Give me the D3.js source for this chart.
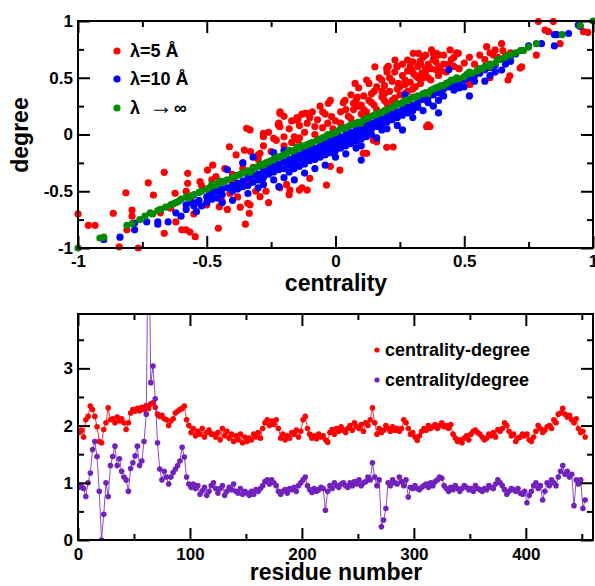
<!DOCTYPE html>
<html>
<head>
<meta charset="utf-8">
<script src="https://cdn.jsdelivr.net/npm/d3@7"></script>
<style>
  body { margin: 0; background: #fff; }
  text { font-family: "Liberation Sans", Arial, Helvetica, sans-serif; font-weight: bold; }
</style>
</head>
<body>
<svg id="chart" width="595" height="586"></svg>
<script>
// ---- top panel: degree vs centrality ----
var topXTicks = [-1, -0.5, 0, 0.5, 1];
var topXMinor = [-0.75, -0.25, 0.25, 0.75];
var topYTicks = [-1, -0.5, 0, 0.5, 1];
var topYMinor = [-0.75, -0.25, 0.25, 0.75];
var scatterNames = ["\u03bb=5 \u00c5", "\u03bb=10 \u00c5", "\u03bb|\u2192|\u221e"];   // "|" splits the pieces of the last label

// lambda = 5 A
var red5 = [
  [-1,-0.7],[-0.96,-0.8],[-0.934,-0.8],[-0.863,-0.694],[-0.84,-0.99],[-0.814,-0.513],[-0.81,-0.84],
  [-0.766,-1.0],[-0.79,-0.665],[-0.79,-0.72],[-0.727,-0.425],[-0.707,-0.533],[-0.68,-0.69],[-0.665,-0.333],
  [-0.64,-0.65],[-0.665,-0.87],[-0.623,-0.518],[-0.62,-0.77],[-0.597,-0.84],[-0.58,-0.84],[-0.565,-0.86],
  [-0.545,-0.9],[-0.574,-0.342],[-0.574,-0.43],[-0.56,-0.55],[-0.526,-0.416],[-0.497,-0.313],[-0.477,-0.27],
  [-0.464,-0.372],[-0.451,-0.636],[-0.455,-0.826],[-0.44,-0.59],[-0.41,-0.52],[-0.412,-0.108],[-0.4,-0.35],
  [-0.386,-0.18],[-0.36,-0.25],[-0.354,-0.137],[-0.345,0.055],[-0.37,-0.64],[-0.341,-0.606],[-0.335,-0.694],
  [-0.35,-0.79],[-0.32,-0.29],[-0.3,-0.18],[-0.3,-0.22],[-0.28,-0.02],[-0.26,-0.6],[-0.27,-0.5],[-0.24,-0.035],
  [-0.222,0.084],[-0.215,0.2],[-0.2,0.16],[-0.19,-0.44],[-0.18,-0.53],[-0.15,0.15],[-0.17,-0.07],[-0.2,-0.1],
  [-0.58,-0.5],[-0.55,-0.7],[-0.52,-0.45],[-0.5,-0.62],[-0.48,-0.4],[-0.45,-0.5],[-0.43,-0.3],[-0.42,-0.66],
  [-0.4,-0.42],[-0.38,-0.55],[-0.36,-0.3],[-0.34,-0.4],[-0.33,-0.15],[-0.31,-0.5],[-0.3,-0.35],
  [-0.332,0.04],[-0.293,-0.166],[-0.28,0.01],[-0.216,0.187],[-0.216,0.069],[-0.15,0.128],[-0.112,0.187],
  [-0.293,-0.548],[-0.332,-0.62],[-0.216,-0.47],[-0.177,-0.49],[-0.13,-0.47],[-0.1,-0.386],[-0.035,-0.445],
  [-0.14,-0.49],[-0.11,-0.49],[-0.02,-0.28],[0.017,-0.313],[-0.054,-0.166],[-0.1,-0.137],[-0.145,-0.05],
  [-0.145,0.142],[-0.118,0.187],[-0.08,0.07],[-0.028,0.275],[-0.015,0.157],[0.011,-0.107],
  [-0.28,-0.1],[-0.26,0.02],[-0.25,-0.15],[-0.23,-0.05],[-0.22,0.1],[-0.2,-0.02],[-0.18,0.05],[-0.17,0.12],
  [-0.16,-0.02],[-0.14,0.08],[-0.13,0.18],[-0.12,0.02],[-0.11,0.1],[-0.09,0.2],[-0.08,0.0],[-0.07,0.13],
  [-0.06,0.25],[-0.05,0.06],[-0.04,0.18],[-0.03,0.1],[-0.02,0.3],[-0.01,0.05],
  [-0.05,0.2],[-0.1,0.15],[-0.14,-0.03],
  [0.0,0.12],[0.02,0.2],[0.03,0.28],[0.037,0.3],[0.05,0.16],[0.06,0.35],[0.07,0.22],[0.07,0.275],[0.076,0.45],
  [0.08,0.3],[0.085,0.33],[0.09,0.41],[0.1,0.18],[0.1,0.26],[0.108,0.07],[0.108,-0.166],[0.121,0.48],
  [0.121,-0.166],[0.147,-0.05],[0.16,-0.063],[0.199,-0.113],[0.224,-0.11],
  [0.02,0.1],[0.04,0.22],[0.06,0.14],[0.09,0.25],[0.11,0.22],[0.13,0.3],[0.15,0.26],[0.16,0.42],
  [0.18,0.38],[0.21,0.5],[0.22,0.3],[0.23,0.55],[0.25,0.35],[0.26,0.62],[0.27,0.44],[0.29,0.6],
  [0.31,0.42],[0.32,0.5],[0.33,0.62],[0.35,0.7],[0.36,0.5],[0.37,0.58],[0.39,0.64],[0.41,0.56],
  [0.42,0.7],[0.44,0.62],[0.19,0.3],[0.24,0.4],[0.14,0.36],[0.28,0.38],[0.34,0.5],
  [0.11,0.34],[0.12,0.2],[0.13,0.45],[0.14,0.28],[0.15,0.38],[0.153,0.597],[0.16,0.22],[0.17,0.5],
  [0.18,0.33],[0.18,0.48],[0.19,0.43],[0.192,0.363],[0.2,0.27],[0.2,0.55],[0.199,0.584],[0.205,0.6],
  [0.21,0.38],[0.22,0.47],[0.23,0.32],[0.231,0.656],[0.238,0.6],[0.24,0.6],[0.244,0.45],[0.25,0.42],
  [0.26,0.52],[0.27,0.36],[0.27,0.48],[0.28,0.56],[0.28,0.656],[0.29,0.46],[0.296,0.57],[0.3,0.64],
  [0.3,0.4],[0.302,0.54],[0.302,0.715],[0.31,0.52],[0.32,0.6],[0.322,0.715],[0.33,0.45],[0.328,0.645],
  [0.335,0.54],[0.34,0.68],[0.35,0.55],[0.35,0.58],[0.354,0.3],[0.354,0.069],[0.36,0.62],[0.36,0.084],
  [0.367,0.07],[0.37,0.48],[0.373,0.745],[0.38,0.66],[0.38,0.71],[0.39,0.57],[0.392,0.715],[0.4,0.52],
  [0.4,0.7],[0.4,0.6],[0.41,0.36],[0.42,0.62],[0.43,0.55],[0.445,0.745],[0.45,0.66],[0.46,0.6],[0.46,0.68],
  [0.47,0.72],[0.477,0.715],[0.48,0.58],[0.5,0.63],[0.515,0.48],[0.522,0.44],[0.52,0.68],[0.54,0.62],
  [0.56,0.7],[0.58,0.66],[0.587,0.774],[0.6,0.5],[0.6,0.72],[0.613,0.7],[0.62,0.745],[0.63,0.68],
  [0.645,0.8],[0.65,0.74],[0.658,0.685],[0.67,0.48],[0.677,0.517],[0.68,0.72],[0.717,0.585],[0.723,0.597],
  [0.78,0.7],[0.788,0.995],[0.814,0.92],[0.827,0.906],[0.846,0.995],[0.872,0.8],[0.963,0.906],[0.98,0.9]
];

// lambda = 10 A
var blue10 = [
  [-0.9,-0.925],[-0.837,-0.905],[-0.78,-0.84],[-0.78,-0.78],[-0.733,-0.77],[-0.69,-0.79],[-0.69,-0.77],
  [-0.65,-0.77],[-0.62,-0.69],[-0.6,-0.72],[-0.58,-0.62],[-0.58,-0.66],[-0.56,-0.6],[-0.55,-0.63],
  [-0.54,-0.6],[-0.54,-0.68],[-0.52,-0.63],[-0.53,-0.58],[-0.5,-0.55],[-0.5,-0.6],[-0.49,-0.53],
  [-0.48,-0.52],[-0.48,-0.57],[-0.47,-0.49],[-0.46,-0.5],[-0.46,-0.56],[-0.44,-0.48],[-0.44,-0.53],
  [-0.44,-0.6],[-0.42,-0.47],[-0.42,-0.31],[-0.4,-0.45],[-0.4,-0.5],[-0.4,-0.58],[-0.38,-0.43],
  [-0.38,-0.48],[-0.36,-0.41],[-0.36,-0.46],[-0.36,-0.25],[-0.34,-0.38],[-0.34,-0.45],[-0.34,-0.52],
  [-0.32,-0.36],[-0.32,-0.42],[-0.32,-0.2],[-0.3,-0.35],[-0.3,-0.4],[-0.3,-0.47],[-0.28,-0.32],
  [-0.28,-0.38],[-0.28,-0.44],[-0.26,-0.3],[-0.26,-0.35],[-0.24,-0.28],[-0.24,-0.33],[-0.24,-0.4],
  [-0.24,-0.16],[-0.22,-0.26],[-0.22,-0.31],[-0.22,-0.46],[-0.2,-0.24],[-0.2,-0.3],[-0.2,-0.38],
  [-0.2,-0.14],[-0.18,-0.22],[-0.18,-0.27],[-0.18,-0.33],[-0.16,-0.2],[-0.16,-0.25],[-0.16,-0.3],
  [-0.16,-0.4],[-0.14,-0.18],[-0.14,-0.22],[-0.14,-0.28],[-0.12,-0.16],[-0.12,-0.21],[-0.12,-0.26],
  [-0.12,-0.34],[-0.1,-0.14],[-0.1,-0.18],[-0.1,-0.23],[-0.08,-0.12],[-0.08,-0.17],[-0.08,-0.22],
  [-0.08,-0.3],[-0.06,-0.1],[-0.06,-0.15],[-0.06,-0.2],[-0.04,-0.08],[-0.04,-0.13],[-0.04,-0.18],
  [-0.04,-0.27],[-0.02,-0.06],[-0.02,-0.11],[-0.02,-0.16],[0,-0.04],[0,-0.09],[0,-0.14],[0,-0.2],
  [0.02,-0.02],[0.02,-0.07],[0.02,-0.12],[0.04,0],[0.04,-0.05],[0.04,-0.1],[0.04,-0.17],[0.06,0.02],
  [0.06,-0.03],[0.06,-0.08],[0.08,0.04],[0.08,-0.01],[0.08,-0.06],[0.08,-0.12],[0.1,0.06],[0.1,0.01],
  [0.1,-0.04],[0.1,-0.1],[0.1,-0.225],[0.12,0.08],[0.12,0.03],[0.12,-0.02],[0.14,0.1],[0.14,0.05],
  [0.14,0],[0.16,0.12],[0.16,0.07],[0.16,-0.03],[0.18,0.14],[0.18,0.09],[0.18,0.04],[0.2,0.16],
  [0.2,0.11],[0.2,0.05],[0.22,0.18],[0.22,0.13],[0.24,0.2],[0.24,0.15],[0.24,0.08],[0.26,0.22],
  [0.26,0.17],[0.26,0.04],[0.27,0.35],[0.28,0.24],[0.28,0.19],[0.3,0.26],[0.3,0.21],[0.3,0.15],
  [0.32,0.28],[0.32,0.24],[0.34,0.31],[0.34,0.21],[0.36,0.33],[0.36,0.28],[0.38,0.35],[0.38,0.25],
  [0.4,0.37],[0.4,0.3],[0.4,0.19],[0.42,0.4],[0.42,0.34],[0.44,0.42],[0.44,0.57],[0.46,0.44],
  [0.46,0.39],[0.48,0.46],[0.48,0.41],[0.5,0.48],[0.5,0.42],[0.52,0.5],[0.52,0.34],[0.54,0.52],
  [0.54,0.47],[0.56,0.54],[0.58,0.57],[0.58,0.47],[0.6,0.59],[0.6,0.52],[0.62,0.61],[0.62,0.55],
  [0.645,0.568],[0.66,0.66],[0.66,0.62],[0.68,0.69],[0.68,0.645],[0.7,0.71],[0.72,0.74],[0.75,0.78],
  [0.8,0.8],[0.85,0.78],[0.85,0.88],[0.86,0.88],[0.905,0.89],[0.943,0.965],[0.95,0.953]
];

// lambda -> infinity
var greenInf = [
  [-1,-1],[-0.915,-0.912],[-0.9,-0.905],[-0.81,-0.8],[-0.79,-0.785],[-0.76,-0.75],[-0.74,-0.72],
  [-0.72,-0.69],[-0.71,-0.7],[-0.69,-0.67],[-0.68,-0.66],[-0.66,-0.64],[-0.64,-0.62],[-0.63,-0.61],
  [-0.62,-0.6],[-0.61,-0.59],[-0.6,-0.57],[-0.58,-0.55],[-0.57,-0.56],[-0.56,-0.54],[-0.55,-0.53],
  [-0.53,-0.51],[-0.52,-0.5],[-0.5,-0.48],[-0.49,-0.47],[-0.48,-0.44],[-0.47,-0.45],[-0.46,-0.44],
  [-0.45,-0.41],[-0.44,-0.42],[-0.43,-0.41],[-0.42,-0.4],[-0.4,-0.38],[-0.39,-0.37],[-0.38,-0.36],
  [-0.37,-0.35],[-0.36,-0.34],[-0.35,-0.33],[-0.34,-0.32],[-0.33,-0.33],[-0.32,-0.3],[-0.31,-0.29],
  [-0.3,-0.28],[-0.29,-0.26],[-0.28,-0.27],[-0.27,-0.25],[-0.26,-0.24],[-0.25,-0.23],[-0.24,-0.22],
  [-0.23,-0.2],[-0.22,-0.2],[-0.21,-0.19],[-0.2,-0.18],[-0.19,-0.17],[-0.18,-0.14],[-0.17,-0.15],
  [-0.16,-0.14],[-0.15,-0.11],[-0.14,-0.12],[-0.13,-0.1],[-0.12,-0.1],[-0.11,-0.09],[-0.1,-0.08],
  [-0.09,-0.07],[-0.07,-0.05],[-0.06,-0.04],[-0.05,-0.03],[-0.04,-0.02],[-0.03,0.0],[-0.02,0],
  [-0.01,0.01],[0,0.015],[0.01,0.03],[0.02,0.05],[0.03,0.05],[0.04,0.06],[0.05,0.07],[0.06,0.09],
  [0.07,0.09],[0.08,0.1],[0.09,0.11],[0.1,0.1],[0.11,0.13],[0.12,0.14],[0.13,0.15],[0.14,0.16],
  [0.15,0.17],[0.16,0.18],[0.17,0.19],[0.18,0.19],[0.19,0.21],[0.2,0.22],[0.22,0.24],[0.23,0.25],
  [0.24,0.27],[0.25,0.27],[0.26,0.28],[0.27,0.3],[0.28,0.3],[0.29,0.31],[0.3,0.33],[0.31,0.33],
  [0.32,0.34],[0.34,0.36],[0.35,0.37],[0.36,0.36],[0.37,0.39],[0.38,0.4],[0.39,0.41],[0.4,0.42],
  [0.41,0.43],[0.42,0.43],[0.43,0.45],[0.44,0.46],[0.45,0.48],[0.46,0.48],[0.47,0.5],[0.48,0.49],
  [0.5,0.51],[0.51,0.53],[0.52,0.55],[0.53,0.54],[0.55,0.56],[0.56,0.58],[0.57,0.58],[0.58,0.6],
  [0.6,0.62],[0.6,0.6],[0.62,0.63],[0.63,0.66],[0.64,0.66],[0.66,0.68],[0.67,0.7],[0.68,0.7],
  [0.7,0.72],[0.72,0.74],[0.73,0.74],[0.75,0.77],[0.78,0.8],[0.88,0.88],[0.95,0.96],[1,1]
];

// ---- bottom panel: per residue ----
var resXTicks = [0, 100, 200, 300, 400];
var resXMinor = [50, 150, 250, 350, 450];
var resYTicks = [0, 1, 2, 3];
var resYMinor = [0.5, 1.5, 2.5, 3.5];
var lineNames = ["centrality-degree", "centrality/degree"];
var residues = d3.range(1, 454, 2);   // odd residues 1..453

var centMinusDeg = [
  1.88,1.92,1.8,2.1,2.16,2.34,2.28,2.16,1.98,1.72,
  1.7,1.93,2.05,2.31,2.1,2.12,2.05,2.15,2.08,2.12,
  2.05,1.93,2.05,2.22,2.28,2.25,2.3,2.26,2.32,2.28,
  2.35,2.3,2.38,2.4,2.32,2.2,2.16,2.18,2.12,2.1,
  2.0,2.08,2.12,2.22,2.25,2.28,2.3,2.34,2.1,2.0,
  1.88,1.95,1.82,1.9,1.85,1.95,1.8,1.88,1.92,1.85,
  1.85,1.8,1.88,1.75,1.95,1.82,1.9,1.78,1.85,1.72,
  1.82,1.75,1.85,1.7,1.8,1.72,1.78,1.75,1.85,1.8,
  1.88,1.78,1.95,2.05,2.1,2.0,2.08,2.02,2.1,1.95,
  1.78,1.85,1.75,1.82,1.78,1.88,1.85,1.92,1.8,1.9,
  2.1,2.16,1.95,1.85,1.78,1.82,1.77,1.85,1.8,1.82,
  1.75,1.71,1.88,1.93,1.85,1.95,1.9,1.98,1.92,1.88,
  1.95,2.0,1.92,2.05,1.98,1.95,2.02,1.9,2.05,2.0,
  2.1,2.31,2.05,1.85,1.95,1.88,1.92,2.0,1.95,1.9,
  1.98,1.92,1.95,1.9,1.95,2.1,2.05,1.95,1.85,1.88,
  1.8,1.74,1.82,1.9,1.95,1.92,2.0,1.95,1.98,2.02,
  1.95,2.0,2.05,1.98,2.0,1.95,2.02,1.85,1.78,1.72,
  1.75,1.7,1.78,1.82,1.75,1.85,1.9,1.92,1.88,1.85,
  1.8,1.75,1.78,1.85,1.82,1.88,1.8,1.93,1.9,1.95,
  2.05,2.0,1.9,1.82,1.85,1.72,1.78,1.8,1.85,1.82,
  1.85,1.75,1.72,1.8,1.9,2.0,1.95,1.88,1.92,1.98,
  2.0,1.95,2.1,2.05,2.2,2.22,2.3,2.2,2.15,2.18,
  2.1,2.05,2.12,1.95,1.88,1.9,1.8
];

var centOverDeg = [
  0.92,0.95,0.9,0.76,1.0,1.17,1.58,1.72,1.46,0.85,
  0.0,0.45,1.0,0.76,1.3,1.46,1.64,1.3,1.42,1.2,
  1.1,1.05,0.85,1.25,1.35,1.47,1.64,1.3,1.38,1.72,
  2.2,6.0,2.75,3.04,2.47,1.7,1.24,1.05,1.2,1.1,
  0.98,1.1,1.18,1.24,1.3,1.38,1.62,1.45,1.1,0.98,
  0.92,0.98,0.9,0.95,0.8,0.86,0.92,0.78,0.85,0.95,
  1.0,0.9,0.82,0.9,0.95,0.78,0.85,0.92,0.88,0.98,
  0.85,0.82,0.9,0.8,0.85,0.82,0.78,0.85,0.8,0.88,
  0.85,0.9,0.95,1.02,1.05,0.98,1.05,1.0,0.95,0.85,
  0.8,0.85,0.88,0.82,0.9,0.88,0.92,0.85,0.95,1.0,
  1.05,1.1,0.95,0.88,0.83,0.9,0.85,0.88,0.92,0.9,
  0.52,0.85,0.95,0.9,1.0,0.95,0.92,0.98,1.0,0.95,
  0.92,1.0,0.95,1.02,0.98,1.05,0.95,1.0,1.02,1.1,
  1.05,1.35,1.1,0.95,1.05,0.23,0.35,0.55,1.0,0.95,
  1.05,1.0,0.98,1.1,1.02,0.95,1.05,0.75,0.92,0.9,
  0.95,0.9,0.88,0.92,0.95,0.98,0.92,1.0,0.95,1.02,
  1.05,1.1,1.08,0.95,0.9,0.85,0.92,0.88,0.95,0.9,
  0.85,0.9,0.95,0.92,0.88,0.9,0.85,0.95,0.9,0.88,
  0.85,0.9,0.88,0.95,0.92,0.9,0.98,1.05,1.0,0.95,
  0.88,0.8,0.85,0.9,0.88,0.85,0.9,0.82,0.8,0.85,
  0.65,0.78,0.85,0.95,1.0,0.9,0.95,0.7,0.85,1.0,
  0.95,1.05,1.0,0.95,1.1,1.2,1.3,1.15,1.2,1.1,
  1.15,0.6,1.05,0.98,1.05,0.55,0.7
];

var RED = "#ff0000", BLUE = "#0000ff", GREEN = "#008b00", INDIGO = "#7221bc";

var svg = d3.select("#chart");

function drawFrame(g, x, y, o) {
  var xr = x.range(), yr = y.range();
  var fmt = function(d) { return String(d); };
  var axes = [
    d3.axisBottom(x).tickValues(o.xMajor).tickSize(-12).tickPadding(o.xPad).tickFormat(fmt),
    d3.axisBottom(x).tickValues(o.xMinor).tickSize(-6).tickFormat(""),
    d3.axisTop(x).tickValues(o.xMajor).tickSize(-12).tickFormat(""),
    d3.axisTop(x).tickValues(o.xMinor).tickSize(-6).tickFormat(""),
    d3.axisLeft(y).tickValues(o.yMajor).tickSize(-12).tickPadding(5).tickFormat(fmt),
    d3.axisLeft(y).tickValues(o.yMinor).tickSize(-6).tickFormat(""),
    d3.axisRight(y).tickValues(o.yMajor).tickSize(-12).tickFormat(""),
    d3.axisRight(y).tickValues(o.yMinor).tickSize(-6).tickFormat("")
  ];
  var shifts = ["translate(0," + yr[0] + ")", "translate(0," + yr[0] + ")",
                "translate(0," + yr[1] + ")", "translate(0," + yr[1] + ")",
                "translate(" + xr[0] + ",0)", "translate(" + xr[0] + ",0)",
                "translate(" + xr[1] + ",0)", "translate(" + xr[1] + ",0)"];
  axes.forEach(function(a, i) {
    var ag = g.append("g").attr("transform", shifts[i]).call(a);
    ag.select(".domain").remove();
    ag.attr("font-family", null).attr("font-size", 17);
    ag.selectAll("line").attr("stroke", "#000").attr("stroke-width", 2);
    ag.selectAll("text").attr("fill", "#000");
  });
  g.append("rect")
    .attr("x", xr[0]).attr("y", yr[1])
    .attr("width", xr[1] - xr[0]).attr("height", yr[0] - yr[1])
    .attr("fill", "none").attr("stroke", "#000").attr("stroke-width", 2);
}

// ---------- top panel ----------
var xT = d3.scaleLinear().domain([-1, 1]).range([78, 593]);
var yT = d3.scaleLinear().domain([-1, 1]).range([248, 21]);
var gT = svg.append("g");

var scatterSets = [red5, blue10, greenInf];
var scatterCols = [RED, BLUE, GREEN];
scatterSets.forEach(function(set, i) {
  gT.append("g").selectAll("circle")
    .data(set)
    .enter().append("circle")
      .attr("cx", function(d) { return xT(d[0]); })
      .attr("cy", function(d) { return yT(d[1]); })
      .attr("r", 3.6)
      .attr("fill", scatterCols[i]);
});

drawFrame(gT, xT, yT, {xMajor: topXTicks, xMinor: topXMinor, yMajor: topYTicks, yMinor: topYMinor, xPad: 7});

var legT = gT.append("g").selectAll("g")
  .data(scatterNames)
  .enter().append("g")
    .attr("transform", function(d, i) { return "translate(117," + [51, 79, 108][i] + ")"; });
legT.append("circle").attr("r", 3.6).attr("fill", function(d, i) { return scatterCols[i]; });
var legTxt = legT.append("text").attr("x", 13).attr("y", 5.5).attr("font-size", 18);
legTxt.each(function(d) {
  var parts = d.split("|");
  var t = d3.select(this);
  t.append("tspan").text(parts[0]);
  if (parts.length > 1) {
    t.append("tspan").attr("dx", 9).attr("font-size", 24).attr("font-weight", "normal").text(parts[1]);
    t.append("tspan").attr("dx", 1).text(parts[2]);
  }
});

gT.append("text").attr("x", 336).attr("y", 291).attr("text-anchor", "middle")
  .attr("font-size", 23).text("centrality");
gT.append("text").attr("transform", "translate(28,135) rotate(-90)").attr("text-anchor", "middle")
  .attr("font-size", 23).text("degree");

// ---------- bottom panel ----------
var xB = d3.scaleLinear().domain([0, 460]).range([78, 593]);
var yB = d3.scaleLinear().domain([0, 3.95]).range([540, 314]);
var gB = svg.append("g");

gB.append("clipPath").attr("id", "clipB")
  .append("rect").attr("x", 78).attr("y", 314).attr("width", 515).attr("height", 226);

var plotB = gB.append("g").attr("clip-path", "url(#clipB)");
var lineSets = [centMinusDeg, centOverDeg];
var lineCols = [RED, INDIGO];
var line = d3.line()
  .x(function(d, i) { return xB(residues[i]); })
  .y(function(d) { return yB(d); });

lineSets.forEach(function(vals, k) {
  plotB.append("path").datum(vals)
    .attr("d", line)
    .attr("fill", "none")
    .attr("stroke", lineCols[k])
    .attr("stroke-opacity", 0.8)
    .attr("stroke-width", 1);
  plotB.append("g").selectAll("circle")
    .data(vals)
    .enter().append("circle")
      .attr("cx", function(d, i) { return xB(residues[i]); })
      .attr("cy", function(d) { return yB(d); })
      .attr("r", 2.8)
      .attr("fill", lineCols[k]);
});

drawFrame(gB, xB, yB, {xMajor: resXTicks, xMinor: resXMinor, yMajor: resYTicks, yMinor: resYMinor, xPad: 8});

var legB = gB.append("g").selectAll("g")
  .data(lineNames)
  .enter().append("g")
    .attr("transform", function(d, i) { return "translate(377," + [350, 380][i] + ")"; });
legB.append("circle").attr("r", 2.6).attr("fill", function(d, i) { return lineCols[i]; });
legB.append("text").attr("x", 8).attr("y", 6).attr("font-size", 18).text(function(d) { return d; });

gB.append("text").attr("x", 336).attr("y", 580).attr("text-anchor", "middle")
  .attr("font-size", 23).text("residue number");
</script>
</body>
</html>
